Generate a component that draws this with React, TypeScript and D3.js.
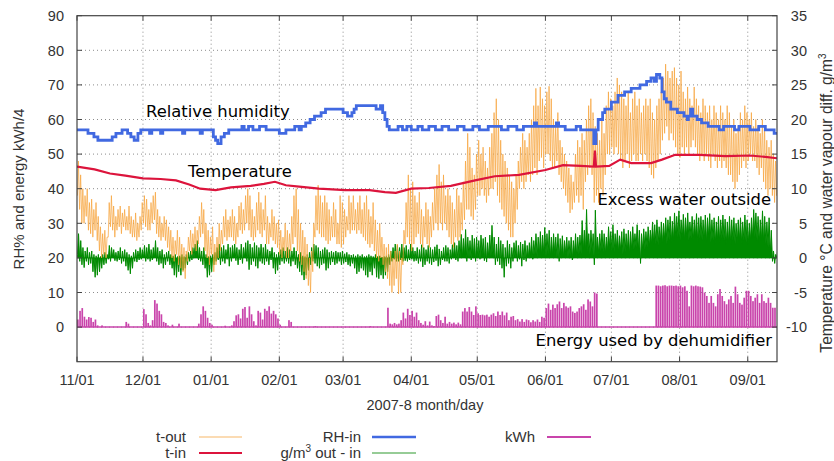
import React from 'react';
import * as d3 from 'd3';

const W = 834;
const H = 461;
const M = { left: 77, right: 777, top: 15.7, bottom: 361.7 };

const START = Date.UTC(2007, 10, 1);
const DAY = 86400000;
const END = START + 318.3 * DAY;

const leftTicks = [0, 10, 20, 30, 40, 50, 60, 70, 80, 90];
const rightTicks = [-10, -5, 0, 5, 10, 15, 20, 25, 30, 35];

// indoor temperature, deg C (right axis); day = days since 1 Nov 2007
const tInDay = [0, 8, 15, 22, 30, 38, 45, 51, 56, 63, 70, 79, 85, 90, 95, 101, 110, 122, 133, 140, 145, 152, 160, 170, 181, 190, 201, 213, 221, 229, 235, 235.5, 236, 242, 247, 252, 261, 266, 272, 283, 295, 306, 313, 318.3];
const tInVal = [13.2, 12.8, 12.2, 11.9, 11.5, 11.4, 11.2, 10.6, 10.0, 9.8, 10.2, 10.4, 10.7, 11.0, 10.5, 10.3, 10.0, 9.8, 9.8, 9.5, 9.4, 10.0, 10.1, 10.4, 11.2, 11.8, 12.0, 12.7, 13.4, 13.3, 13.2, 15.5, 13.2, 13.3, 14.2, 13.7, 13.7, 14.2, 14.9, 14.9, 14.7, 14.8, 14.6, 14.4];

// indoor relative humidity, % (left axis)
const rhDay = [0, 5, 7.7, 9.5, 16, 17.7, 20.5, 23, 24.5, 26, 27.7, 29, 33, 34, 38, 39, 48, 49, 56, 57, 62, 63, 64, 65.5, 67, 69, 75, 76, 78, 80, 83, 86, 92, 95, 99, 101, 102, 104, 106, 108, 111, 113, 121, 123, 125, 126, 127, 136, 138, 139, 140, 141, 142, 146, 148, 150, 152, 155, 157, 160, 163, 166, 169, 173, 176, 180, 183, 187, 193, 196, 200, 203, 208, 209, 214, 218, 219, 222, 227, 229, 235, 236, 237, 239, 240, 243, 246, 249, 252, 256, 259, 261, 262.5, 263.5, 265, 266, 267, 268, 270, 273, 276, 277.5, 278, 279, 280, 282, 284, 287, 292, 294, 299, 301, 306, 310, 313, 317, 318.3];
const rhVal = [57, 56, 55, 54, 55, 56, 57, 56, 55, 54, 56, 57, 56, 57, 56, 57, 56, 57, 56, 57, 55, 54, 53, 55, 56, 57, 58, 57, 58, 57, 58, 57, 56, 57, 58, 57, 58, 59, 60, 61, 62, 63, 62, 61, 62, 63, 64, 63, 64, 62, 60, 58, 57, 58, 57, 58, 57, 58, 57, 58, 57, 58, 57, 58, 57, 58, 57, 58, 57, 58, 57, 58, 59, 58, 58, 59, 58, 57, 58, 57, 53, 57, 60, 62, 63, 65, 67, 68, 69, 70, 71, 72, 71, 73, 72, 68, 66, 65, 63, 62, 61, 60, 61, 63, 61, 60, 59, 58, 57, 58, 57, 58, 57, 58, 57, 56, 56];

// outdoor temperature, daily max / min, deg C (right axis)
const tOutMax = [
  14, 12, 10, 9, 10, 8, 8.5,
  7, 8, 6, 4.5, 3.5, 4, 3,
  8, 9, 7.5, 6, 7, 7.5, 6.5,
  7, 6, 7.5, 6, 5.5, 6.5, 5,
  6, 8, 9, 8.5, 7, 8, 9,
  9.5, 7, 6, 5, 6, 5.5, 4.5,
  4, 3, 2.5, 4, 3, 2, 1.5,
  1, 3, 4, 3.5, 4.5, 4, 6,
  8, 7, 5, 4, 3, 4.5, 2,
  3, 5, 4, 6, 7, 5.5, 6,
  7, 6, 5, 7.5, 8, 7, 9,
  10, 9, 7, 6, 8, 9.5, 8,
  7, 9, 6, 5, 7, 6, 5,
  5.5, 4, 3, 5, 4, 3.5, 6,
  9, 10, 7, 5, 4, 3, 2,
  0, 1, 5, 9, 10.5, 9, 8,
  9, 8, 7, 6, 8, 7, 5,
  9, 8, 7, 6, 9, 8, 9,
  7, 8, 9, 7, 8, 9, 7,
  6, 8, 5.5, 4, 5, 3, 2,
  1.5, 2, 1, 0, 1, 2, 1,
  0, 4, 8, 12, 10, 11, 9,
  8, 9.5, 7, 6, 8, 7, 6,
  8, 10, 12, 13.5, 11, 12, 9,
  10, 9, 8, 7, 10, 9, 8,
  11, 14, 18, 16, 13, 12, 15,
  17, 15, 16, 14, 13, 16, 18,
  21, 23, 20, 17, 15, 14, 13,
  12, 11, 10, 12, 14, 16, 18,
  17, 16, 18, 20, 22, 24.5, 22,
  24.7, 23, 22, 24, 24.8, 23, 20,
  19, 21, 17, 16, 15, 14, 13,
  12, 11, 15, 17, 16, 18, 17,
  20, 22, 23, 21, 19, 18, 17,
  20, 18, 22, 24, 23, 22, 24,
  26, 25, 24, 23, 22, 24, 21,
  23, 24, 22, 23, 21, 22, 23,
  22, 23, 21, 20, 22, 23, 24,
  26, 28, 27, 26, 27, 27.5, 26,
  25, 27, 24, 23, 24.7, 23, 22,
  24.7, 23, 22, 21, 23, 22, 21,
  22, 20, 22, 21, 20, 22, 21,
  20, 22, 21, 19, 20, 18, 19,
  21, 20, 22, 21, 20, 21, 19,
  20, 19, 18, 20, 19, 17, 16,
  17, 15, 14, 12
];
const tOutMin = [
  9, 7, 5, 5, 6, 4, 3.5,
  3, 4, 2.5, 1, 0, 0.5, 0,
  3, 4.5, 4, 3, 4, 4.5, 3.5,
  4.5, 4, 4, 3.5, 3, 3, 2.5,
  3, 4, 5, 4.5, 4, 4, 5,
  5.5, 3.5, 3, 2.5, 3, 2.5, 1.5,
  1, 0, -0.5, 0.5, -1, -1.5, -2,
  -3, -0.5, 1, 0.5, 1.5, 1, 2,
  3, 3.5, 1, 0, -1, 0.5, -2,
  -1, 0, 1, 2, 3, 2.5, 3,
  3, 2.5, 2, 3, 4, 3.5, 4,
  5, 4, 3, 2.5, 3, 4, 3.5,
  3, 4, 2, 2, 3, 2.5, 2,
  1.5, 0.5, 0, 1, 0, 0, 1,
  2, 3, 1, -0.5, -1, -2, -3,
  -4, -5, -2, 3, 4, 3.5, 3,
  3, 2.5, 2, 2.5, 3, 3, 2,
  2, 1.5, 2, 3, 4, 3.5, 4,
  4, 3.5, 4, 3.5, 3, 2.5, 2,
  1.5, 2, 1, 0, -0.5, 0, -1,
  -2, -3, -4, -5, -4, -3, -5.2,
  -5, -1, 2, 3, 2, 1, 2,
  3, 3.5, 2, 1.5, 3, 2, 1.5,
  3, 4, 5, 4, 5, 4, 5,
  4, 3, 2, 1.5, 3, 2.5, 3,
  4, 5.5, 7, 7, 6, 5.5, 7,
  9, 9, 10, 9, 8, 9, 10,
  10, 11, 9, 8, 7, 6, 5,
  4, 3, 3, 5, 7, 10, 11,
  10, 11, 12, 11, 12, 13, 12,
  14, 14.5, 13, 15, 15, 14, 13,
  13, 14, 12, 11, 10, 9, 8,
  6.5, 7, 8, 9, 8, 9, 7,
  11, 12, 13, 12, 8, 9, 8,
  10, 9, 12, 15, 15, 16, 15,
  16, 15, 14, 13, 14, 15, 13,
  14, 15, 14, 14, 15, 14, 15,
  14, 13, 12, 11.5, 13, 14, 15,
  17, 18, 19, 17, 18, 17, 16,
  15, 14.5, 16, 15, 16, 15, 16,
  17, 16, 15, 14, 15, 14, 15,
  14, 13, 15, 14, 13, 14, 13,
  14, 13, 12, 12, 11, 10, 11,
  12, 13, 14, 13, 14, 15, 14,
  14, 13, 12, 13, 11, 10, 9,
  10, 9, 8, 9
];

// water vapour difference out - in, daily high / low, g/m3 (right axis)
const gHi = [
  3.5, 2.5, 1.5, 1, 1.5, 0.8, 1,
  0.5, 0.3, 0.5, 0.2, 0.5, 0.8, 0.5,
  1.8, 1.5, 1.2, 0.8, 1, 1.5, 1,
  1.2, 0.8, 0.5, 0.3, 0.8, 1.2, 1,
  1.5, 1.2, 1.8, 1.5, 2, 1.2, 1.5,
  2.5, 1.5, 1, 1.2, 0.5, 0.8, 1,
  0.5, 0.3, 0.5, 0.2, 0.3, 0.5, 0.2,
  0.5, 0.8, 1, 1.5, 2, 2.5, 1.5,
  1, 1.5, 0.5, 0.2, 0.3, 0.5, 0.8,
  1.5, 2, 1.5, 1.8, 1.2, 2, 1.5,
  1.8, 2, 1.5, 1.2, 2, 1.5, 2.2,
  2.5, 2, 1.5, 2.2, 1.8, 1.5, 2,
  1.5, 2, 1.2, 1, 1.5, 0.8, 0.5,
  0.8, 1.2, 1.5, 1, 1.5, 1.2, 1,
  1.5, 1, 0.5, 0.8, 0.3, 0.2, 0.5,
  0.8, 1.5, 2, 1.8, 1.5, 1, 1.2,
  1.5, 1.2, 0.8, 1, 0.8, 1, 0.8,
  0.8, 1, 0.6, 0.8, 0.5, 0.4, 0.5,
  0.3, 0.5, 0.3, 0.5, 0.2, 0.3, 0.5,
  0.3, 0.2, 0.5, 0.2, 0.3, 0.1, 0.2,
  0.3, 0.5, 1, 1.5, 2, 1.8, 1.5,
  2, 1.5, 1.8, 1.2, 2, 1.5, 1,
  1.5, 1.2, 1.9, 1.5, 1.2, 1.8, 1.5,
  1.2, 1.6, 1.9, 1.3, 1, 1.5, 1.8,
  1.5, 1.2, 1.9, 2.2, 1.8, 2.5, 3.4,
  2.8, 4.1, 3, 2.5, 3.3, 2.8, 3,
  2.5, 3.3, 2.8, 3, 2.2, 3.3, 4.7,
  3, 2, 3, 2.5, 2, 1.5, 2.5,
  2, 1.5, 2.2, 2.5, 1.8, 2.3, 2,
  2.5, 1.8, 2.2, 3, 2.5, 3.5, 3,
  3.8, 3.3, 4.4, 3.5, 4, 3, 3.5,
  3, 3.5, 2.8, 3.2, 2.5, 3, 2.5,
  3, 2.5, 3.5, 3, 3.3, 5.4, 4,
  7, 3.5, 4, 3.5, 6.9, 3, 3.5,
  4, 3.5, 3, 4.5, 3.8, 4.8, 3.5,
  4, 3.2, 3.8, 4.2, 3.5, 4, 3.8,
  4.5, 3.5, 4.8, 4, 3.5, 4.2, 3.8,
  4.5, 4, 5.2, 4.8, 5.5, 4.5, 5.2,
  5, 5.8, 5.5, 6, 5.3, 6.5, 6,
  6.8, 5.5, 6.3, 5.8, 6.5, 5.2, 6,
  5.5, 6.4, 5.8, 6, 5.5, 6.2, 5.8,
  6.4, 5.5, 5.8, 5.2, 6, 5.5, 6.2,
  5.6, 5.2, 6, 5.5, 5.8, 5, 5.5,
  5.8, 5.2, 6.2, 5.5, 5, 5.8, 7,
  6.5, 6, 5.5, 6.8, 6, 5.2, 5.8,
  4, 1, 0.5, 1.5
];
const gLo = [
  0.5, -0.5, -1, -1.4, -0.5, -1, -0.8,
  -2, -2.8, -2.5, -2, -1.5, -1, -0.8,
  -0.2, -0.5, 0, -0.4, -0.5, -0.3, -0.8,
  -0.5, -1.2, -1.8, -2.3, -1.5, -0.5, -0.6,
  -0.3, -0.2, 0, -0.5, -0.2, -0.5, -0.3,
  0, -0.5, -1, -0.8, -1.5, -1, -0.5,
  -1, -1.5, -2.5, -2.8, -2, -2.5, -1.8,
  -1.5, -1, -0.5, -0.3, 0, 0.2, -0.3,
  -0.5, -1, -1.5, -2.8, -2.5, -2, -1,
  -0.5, -0.3, -1, -0.5, -0.8, -0.2, -1.2,
  -0.5, 0, -0.4, -1, -0.3, -0.8, 0,
  -0.5, -1.7, -1, -0.5, -1.2, -1.5, -0.5,
  -0.8, -1, -0.5, -1, -0.3, -1.5, -2.3,
  -1.8, -1, -0.5, -0.8, -0.5, -0.8, -1.2,
  -0.5, -1, -1.5, -2, -2.5, -3.2, -2.5,
  -1.8, -1, -0.5, -0.8, -1.2, -1.5, -1,
  -0.8, -1.8, -1.5, -1, -0.6, -1, -0.8,
  -0.5, -1, -0.8, -0.6, -1, -1.2, -0.8,
  -1.5, -2.3, -2, -1.5, -1.8, -2.5, -2.8,
  -2, -2.5, -1.5, -2.8, -3, -2.5, -3,
  -2.5, -2, -1, -0.5, -0.2, -0.5, -0.5,
  -0.3, -0.5, -0.4, -0.5, -0.3, -0.2, -0.5,
  -0.4, -0.8, -0.5, -1.3, -1, -0.5, -0.8,
  -1, -0.6, -0.4, -1.2, -1, -0.3, -0.5,
  -0.5, -0.8, -0.2, 0, -0.3, -0.5, 0,
  0, 0.3, -0.5, 0, -0.3, 0.2, -0.5,
  0, -0.2, 0.5, -0.4, -0.6, 0, 0.2,
  0, -1, -0.5, -1, -1.5, -2.8, -1.2,
  -0.8, -1.5, -0.5, 0, -0.5, -0.2, -1.2,
  -0.3, -0.5, 0, 0.3, -0.2, 0.5, 0,
  0.5, 0.3, 0.5, 0.2, 0.5, 0, 0.3,
  0.5, 0, -0.5, 0.3, 0, 0.5, 0,
  0.2, -0.3, 0.5, 0, 0.5, 0.5, 1,
  1, 0.8, 0.5, 1, -1, 0.5, 0.5,
  1, 0.8, 0.5, 1, 1.2, 1, 0.8,
  1.2, 0.8, 1, 0.5, 0.8, 1, 0.5,
  1, 1.2, 1.5, 1, -0.8, 1, 1.2,
  1.5, 1.5, 2, 2, 2, 1.8, 2.2,
  2, 2.5, 2, 2.5, 2.2, 2.5, 3,
  3, 2.5, 2.8, 2.5, 3, 2.5, 2.8,
  2.5, 3, 2.2, 2.8, 2.5, 2.5, 2.2,
  3, 2.2, 2.5, 2, 2.5, 2.2, 2.8,
  2.5, 2, 2.2, 2, 2.5, 2, 2.2,
  2.5, 2, 2.5, 2.2, 2, 2.5, 2.8,
  3, 2.5, 2.2, 2.5, 2, 2, 1.5,
  0.5, -0.5, -0.8, 0
];

// dehumidifier energy per day (left axis)
const kwh = [
  2.2, 4.7, 5.5, 3, 2.2, 2.9, 2.7, 1.5, 2.2, 0.5,
  0, 0.5, 0, 0, 0, 0, 0, 0, 0, 0,
  0, 0, 1.5, 1, 0, 0, 0, 0, 0, 0,
  5.2, 3.7, 1.2, 0.5, 2, 7.8, 6.8, 4.7, 3.7, 1.5,
  1.2, 0.5, 0, 0.7, 0, 0, 1, 0, 0, 0,
  0, 0, 0, 0, 0, 1, 3.7, 6, 4.7, 2.7,
  1.2, 0.7, 0, 0, 0, 0, 0, 0.4, 0, 0,
  0.5, 1.7, 3.4, 3.7, 2.5, 5.3, 5.8, 2.7, 6, 3.7,
  1.7, 0.5, 4.7, 4.2, 2.2, 5.3, 4.7, 6, 3.9, 4.7,
  3.7, 2.5, 0.7, 0, 0, 0, 2, 1.5, 0, 0,
  0, 0, 0, 0, 0, 0, 0, 0, 0.3, 0,
  0, 0, 0, 0, 0, 0, 0, 0, 0, 0,
  0, 0, 0, 0, 0, 0, 0, 0, 0, 0,
  0, 0, 0, 0.3, 0, 0, 0, 0, 0, 0,
  0, 5.6, 1, 0.8, 1.2, 0.8, 1, 2, 4.2, 2.5,
  5.3, 3.5, 4.7, 3, 4.2, 2, 1.2, 0.7, 1.7, 0.5,
  1.6, 0.5, 0.3, 3.2, 3.6, 2, 1.2, 3, 1, 1.5,
  1, 1.3, 0.8, 1.3, 0.8, 4.5, 5.5, 4.5, 5.8, 4.5,
  3.5, 6, 4, 3.5, 3.6, 3.4, 3.6, 3, 3.6, 4,
  3.2, 4.5, 3.5, 4.5, 3.4, 4.2, 2, 3, 3.2, 2,
  2.3, 1.6, 2.3, 1.5, 2.2, 2, 1.4, 2, 1.6, 2.2,
  1.5, 3, 2.7, 5.5, 6.8, 5, 6.5, 5.5, 6.6, 7.4,
  5.5, 7, 6, 5.6, 6, 4.5, 4.1, 4.5, 5.5, 6,
  6.6, 5, 8, 7.4, 6, 10, 9.7, 0, 0, 0,
  0, 0, 0, 0, 0, 0, 0, 0, 0, 0,
  0, 0, 0, 0, 0, 0, 0, 0, 0, 0,
  0, 0, 0, 12, 12, 11.8, 12, 12.1, 11.8, 12,
  12, 11.9, 12, 11.8, 12, 11.5, 11.8, 10.5, 6, 12,
  11.8, 12, 11.8, 11.7, 11.5, 10, 9, 7, 9, 7,
  6, 9.5, 11, 9, 7.5, 6.6, 8, 9, 7, 11.7,
  9.5, 7, 6.5, 8.5, 10.5, 10.5, 9, 7.5, 8.5, 9.5,
  7, 9.5, 7.5, 7, 8.5, 7, 5.6, 5.6, 0
];

const C_TOUT = '#f6a33c';
const C_TIN = '#dc143c';
const C_RH = '#4169e1';
const C_G = '#008a00';
const C_KWH = '#c944ab';
const SANS = '"Liberation Sans", Arial, sans-serif';
const DEJA = '"DejaVu Sans", sans-serif';

export default function App() {
  const x = d3.scaleUtc().domain([START, END]).range([M.left, M.right]);
  const yL = d3.scaleLinear().domain([-10, 90]).range([M.bottom, M.top]);
  const yR = d3.scaleLinear().domain([-15, 35]).range([M.bottom, M.top]);
  const t = (d: number) => START + d * DAY;

  const months = d3.utcMonth.range(new Date(START), new Date(END + 1));
  const fmt = d3.utcFormat('%m/%d');

  const tOutPts: [number, number][] = tOutMax.flatMap((v, i) => [[i + 0.2, tOutMin[i]], [i + 0.65, v]] as [number, number][]);
  const gPts: [number, number][] = gHi.flatMap((v, i) => [[i + 0.25, gLo[i]], [i + 0.7, v]] as [number, number][]);

  const lineR = d3.line<[number, number]>().x(p => x(t(p[0]))).y(p => yR(p[1]));
  const tInPath = lineR(tInDay.map((d, i) => [d, tInVal[i]]));
  const tOutPath = lineR(tOutPts);
  const rhPath = d3.line<[number, number]>().x(p => x(t(p[0]))).y(p => yL(p[1])).curve(d3.curveStepAfter)(rhDay.map((d, i) => [d, rhVal[i]]));
  const gPath = d3.area<[number, number]>().x(p => x(t(p[0]))).y0(yR(0)).y1(p => yR(p[1]))(gPts);

  const grid = { stroke: '#8c8c8c', strokeWidth: 1, strokeDasharray: '1,3' };

  return (
    <svg width={W} height={H} style={{ position: 'absolute', left: 0, top: 0, background: '#fff' }}>
      <defs>
        <clipPath id="plot">
          <rect x={M.left} y={M.top} width={M.right - M.left} height={M.bottom - M.top} />
        </clipPath>
      </defs>

      {/* grid */}
      {leftTicks.slice(0, -1).map(v => (
        <line key={'gy' + v} x1={M.left} x2={M.right} y1={yL(v)} y2={yL(v)} {...grid} />
      ))}
      {months.slice(1).map(m => (
        <line key={'gx' + +m} x1={x(m)} x2={x(m)} y1={M.top} y2={M.bottom} {...grid} />
      ))}

      <g clipPath="url(#plot)">
        {/* kWh bars */}
        {kwh.map((v, i) =>
          v > 0 ? (
            <rect key={'k' + i} x={x(t(i))} y={yL(v)} width={Math.max(0.5, x(t(i + 1)) - x(t(i)) - 0.5)} height={yL(0) - yL(v)} fill={C_KWH} />
          ) : null
        )}
        <line x1={M.left} x2={M.right} y1={yL(0)} y2={yL(0)} stroke={C_KWH} strokeWidth={1.5} />

        <path d={gPath || ''} fill={C_G} stroke={C_G} strokeWidth={1} />
        <path d={tOutPath || ''} fill="none" stroke={C_TOUT} strokeWidth={1} strokeOpacity={0.72} />
        <path d={tInPath || ''} fill="none" stroke={C_TIN} strokeWidth={2.2} />
        <path d={rhPath || ''} fill="none" stroke={C_RH} strokeWidth={2.8} />
      </g>

      {/* border */}
      <rect x={M.left} y={M.top} width={M.right - M.left} height={M.bottom - M.top} fill="none" stroke="#444" strokeWidth={1.2} />

      {/* left axis */}
      {leftTicks.map(v => (
        <g key={'l' + v}>
          <line x1={M.left} x2={M.left + 5} y1={yL(v)} y2={yL(v)} stroke="#444" />
          <text x={64} y={yL(v)} dy="0.36em" textAnchor="end" fontFamily={SANS} fontSize={14.5} fill="#333">{v}</text>
        </g>
      ))}
      {/* right axis */}
      {rightTicks.map(v => (
        <g key={'r' + v}>
          <line x1={M.right - 5} x2={M.right} y1={yR(v)} y2={yR(v)} stroke="#444" />
          <text x={807} y={yR(v)} dy="0.36em" textAnchor="end" fontFamily={SANS} fontSize={14.5} fill="#333">{v}</text>
        </g>
      ))}
      {/* bottom axis */}
      {months.map(m => (
        <g key={'b' + +m}>
          <line x1={x(m)} x2={x(m)} y1={M.bottom} y2={M.bottom - 5} stroke="#444" />
          <line x1={x(m)} x2={x(m)} y1={M.top} y2={M.top + 5} stroke="#444" />
          <text x={x(m)} y={385} textAnchor="middle" fontFamily={SANS} fontSize={14.5} fill="#333">{fmt(m)}</text>
        </g>
      ))}

      <text x={425} y={410} textAnchor="middle" fontFamily={SANS} fontSize={14.5} fill="#333">2007-8 month/day</text>
      <text transform="translate(24,189) rotate(-90)" textAnchor="middle" fontFamily={SANS} fontSize={15} fill="#333">RH% and energy kWh/4</text>
      <text transform="translate(832,203) rotate(-90)" textAnchor="middle" fontFamily={SANS} fontSize={15.6} fill="#333">
        Temperature °C and water vapour diff. g/m<tspan dy={-6} fontSize={10}>3</tspan>
      </text>

      {/* annotations */}
      <text x={146} y={117} fontFamily={DEJA} fontSize={16.4} fill="#000">Relative humidity</text>
      <text x={188} y={177} fontFamily={DEJA} fontSize={16.4} fill="#000">Temperature</text>
      <text x={771} y={205} textAnchor="end" fontFamily={DEJA} fontSize={16.4} fill="#000">Excess water outside</text>
      <text x={772} y={346} textAnchor="end" fontFamily={DEJA} fontSize={16.4} fill="#000">Energy used by dehumidifier</text>

      {/* legend */}
      <g fontFamily={SANS} fontSize={15} fill="#333" textAnchor="end">
        <text x={186} y={442}>t-out</text>
        <line x1={199} x2={242} y1={437} y2={437} stroke="#f8b868" strokeWidth={1.2} />
        <text x={186} y={458}>t-in</text>
        <line x1={199} x2={242} y1={453} y2={453} stroke={C_TIN} strokeWidth={2.2} />
        <text x={361} y={442}>RH-in</text>
        <line x1={372} x2={416} y1={437} y2={437} stroke={C_RH} strokeWidth={2.4} />
        <text x={361} y={458}>
          g/m<tspan dy={-6} fontSize={10}>3</tspan><tspan dy={6}> out - in</tspan>
        </text>
        <line x1={372} x2={416} y1={453} y2={453} stroke="#2e9a2e" strokeWidth={1.2} />
        <text x={535} y={442}>kWh</text>
        <line x1={547} x2={591} y1={437} y2={437} stroke={C_KWH} strokeWidth={2} />
      </g>
    </svg>
  );
}
